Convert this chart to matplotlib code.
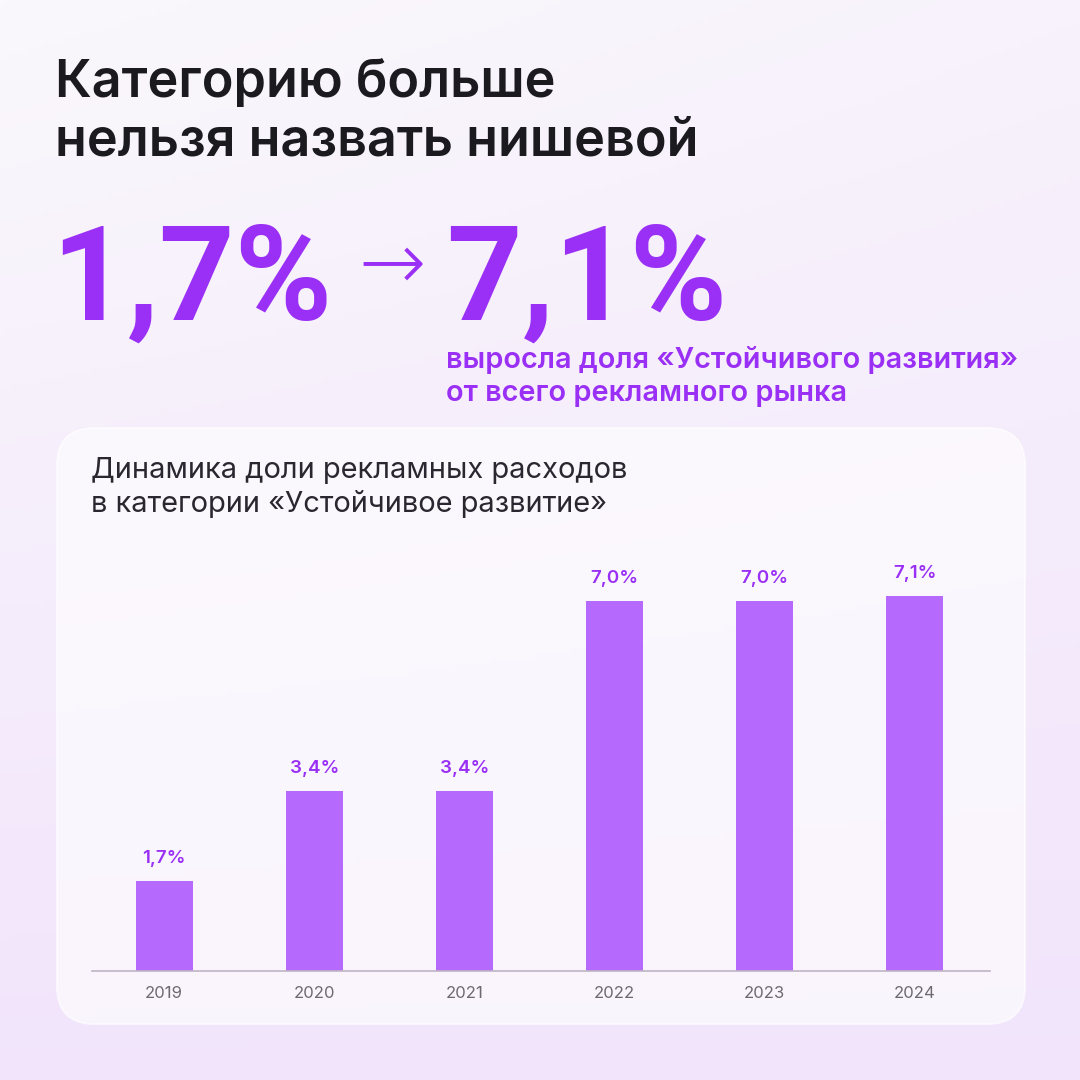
import matplotlib.pyplot as plt
import numpy as np
from matplotlib.patches import FancyBboxPatch

years = ["2019", "2020", "2021", "2022", "2023", "2024"]
shares = [1.7, 3.4, 3.4, 7.0, 7.0, 7.1]
share_labels = ["1,7%", "3,4%", "3,4%", "7,0%", "7,0%", "7,1%"]

title_lines = ["Категорию больше", "нельзя назвать нишевой"]
big_from = "1,7%"
big_to = "7,1%"
sub_lines = ["выросла доля «Устойчивого развития»", "от всего рекламного рынка"]
card_lines = ["Динамика доли рекламных расходов", "в категории «Устойчивое развитие»"]

PURPLE = "#9a30f5"
BAR = "#b66afd"
W = H = 1080

plt.rcParams["font.family"] = ["Inter", "DejaVu Sans"]


def fx(px):
    return px / W


def fy(py):
    return 1 - py / H


fig = plt.figure(figsize=(10.8, 10.8), dpi=100)

# background gradient
bg = fig.add_axes([0, 0, 1, 1], zorder=-10)
yy, xx = np.mgrid[0:1:200j, 0:1:200j]
t = np.clip(0.85 * yy + 0.25 * xx * (1 - yy), 0, 1)
top = np.array([250, 248, 252]) / 255
bot = np.array([240, 225, 251]) / 255
img = top[None, None, :] * (1 - t[..., None]) + bot[None, None, :] * t[..., None]
bg.imshow(img, extent=[0, 1, 0, 1], aspect="auto", origin="upper")
bg.set_axis_off()

# card
card = FancyBboxPatch((fx(57), fy(1024)), fx(968), (1024 - 428) / H,
                      boxstyle="round,pad=0,rounding_size=0.035",
                      transform=fig.transFigure, facecolor="white", alpha=0.62,
                      edgecolor="white", linewidth=1.5, zorder=-5)
fig.patches.append(card)

# heading
for i, line in enumerate(title_lines):
    fig.text(fx(55), fy(97 + i * 58), line, fontsize=37.6, fontweight="semibold",
             color="#1b1b1f", va="baseline", ha="left")

fig.text(fx(51), fy(320), big_from, fontsize=95, fontweight="bold",
         family=["Roboto", "DejaVu Sans"], color=PURPLE, va="baseline", ha="left")
fig.text(fx(392), fy(289), "→", fontsize=58, fontweight="light",
         family=["DejaVu Sans"], color=PURPLE, va="baseline", ha="center")
fig.text(fx(446), fy(320), big_to, fontsize=95, fontweight="bold",
         family=["Roboto", "DejaVu Sans"], color=PURPLE, va="baseline", ha="left")

for i, line in enumerate(sub_lines):
    fig.text(fx(446), fy(368 + i * 33), line, fontsize=20.8, fontweight="semibold",
             color=PURPLE, va="baseline", ha="left")

for i, line in enumerate(card_lines):
    fig.text(fx(91), fy(478 + i * 34), line, fontsize=20.9,
             color="#2a2730", va="baseline", ha="left")

# bar chart
ax = fig.add_axes([fx(92), fy(971), fx(990 - 92), (971 - 540) / H])
ax.patch.set_alpha(0)
x = np.arange(len(years))
bars = ax.bar(x, shares, width=0.38, color=BAR, zorder=2)
for b, lab in zip(bars, share_labels):
    ax.annotate(lab, (b.get_x() + b.get_width() / 2, b.get_height()),
                xytext=(0, 10), textcoords="offset points", ha="center",
                va="bottom", fontsize=13.5, fontweight="semibold", color=PURPLE)

ax.set_xlim(-0.48, 5.5)
ax.set_ylim(0, 8.15)
ax.set_xticks(x)
ax.set_xticklabels(years, fontsize=12, color="#6e6873")
ax.tick_params(axis="x", length=0, pad=11)
ax.set_yticks([])
for s in ["top", "right", "left"]:
    ax.spines[s].set_visible(False)
ax.spines["bottom"].set_color("#bdb5c4")
ax.spines["bottom"].set_linewidth(1.2)

fig.savefig("out.png", dpi=100)
